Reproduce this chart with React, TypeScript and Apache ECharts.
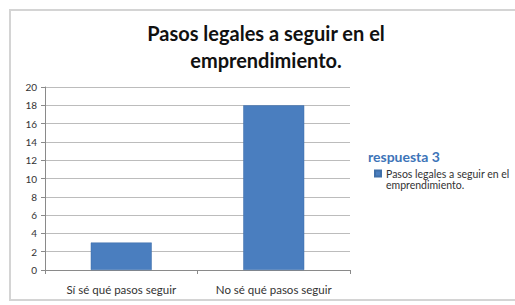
import React, { useEffect, useRef } from "react";
import * as echarts from "echarts";

const categories = ["Sí sé qué pasos seguir", "No sé qué pasos seguir"];
const values = [3, 18];
const seriesName = "Pasos legales a seguir en el emprendimiento.";
const titleText = "Pasos legales a seguir en el\nemprendimiento.";
const legendTitle = "respuesta 3";

const FONT = "Lato, 'Open Sans', sans-serif";

export default function App() {
  const ref = useRef<HTMLDivElement>(null);
  useEffect(() => {
    if (!ref.current) return;
    const chart = echarts.init(ref.current, undefined, { renderer: "svg" });
    chart.setOption({
      animation: false,
      backgroundColor: "#ffffff",
      textStyle: { fontFamily: FONT },
      grid: { left: 45, right: 165, top: 87, bottom: 35, containLabel: false },
      xAxis: {
        type: "category",
        data: categories,
        axisLine: { show: true, lineStyle: { color: "#8a8a8a", width: 1 } },
        axisTick: { show: true, length: 4, lineStyle: { color: "#8a8a8a" } },
        axisLabel: { color: "#333333", fontSize: 11.5, margin: 13, fontFamily: FONT },
      },
      yAxis: {
        type: "value",
        min: 0,
        max: 20,
        interval: 2,
        axisLine: { show: true, lineStyle: { color: "#8a8a8a", width: 1 } },
        axisTick: { show: true, length: 4, lineStyle: { color: "#8a8a8a" } },
        axisLabel: { color: "#333333", fontSize: 10, margin: 8, fontFamily: FONT },
        splitLine: { show: true, lineStyle: { color: "#bcbcbc", width: 1 } },
      },
      legend: {
        show: true,
        left: 369,
        top: 152,
        orient: "vertical",
        itemWidth: 6,
        itemHeight: 6,
        itemGap: 4,
        icon: "rect",
        data: [seriesName],
        formatter: () => " \nPasos legales a seguir en el\nemprendimiento.",
        textStyle: { fontSize: 10.5, color: "#333333", fontFamily: FONT, lineHeight: 11 },
      },
      series: [
        {
          name: seriesName,
          type: "bar",
          data: values,
          barWidth: "40%",
          itemStyle: { color: "#4a7ebf", borderColor: "#3f6fa8", borderWidth: 0.5 },
        },
      ],
      graphic: [
        {
          type: "rect",
          shape: { x: 10, y: 10, width: 520, height: 290 },
          style: { fill: "none", stroke: "#d4d4d4", lineWidth: 2 },
          silent: true,
        },
        {
          type: "text",
          x: 266,
          y: 19,
          style: {
            text: titleText,
            fontSize: 20,
            fontWeight: "bold",
            fontFamily: FONT,
            fill: "#111111",
            textAlign: "center",
            lineHeight: 27,
          },
        },
        {
          type: "text",
          x: 368,
          y: 149,
          z: 10,
          style: {
            text: legendTitle,
            fontSize: 14,
            fontWeight: "bold",
            fontFamily: FONT,
            fill: "#3d74b8",
          },
        },
      ],
    });
    return () => chart.dispose();
  }, []);
  return (
    <div
      ref={ref}
      style={{ position: "fixed", left: 0, top: 0, width: 515, height: 305 }}
    />
  );
}
